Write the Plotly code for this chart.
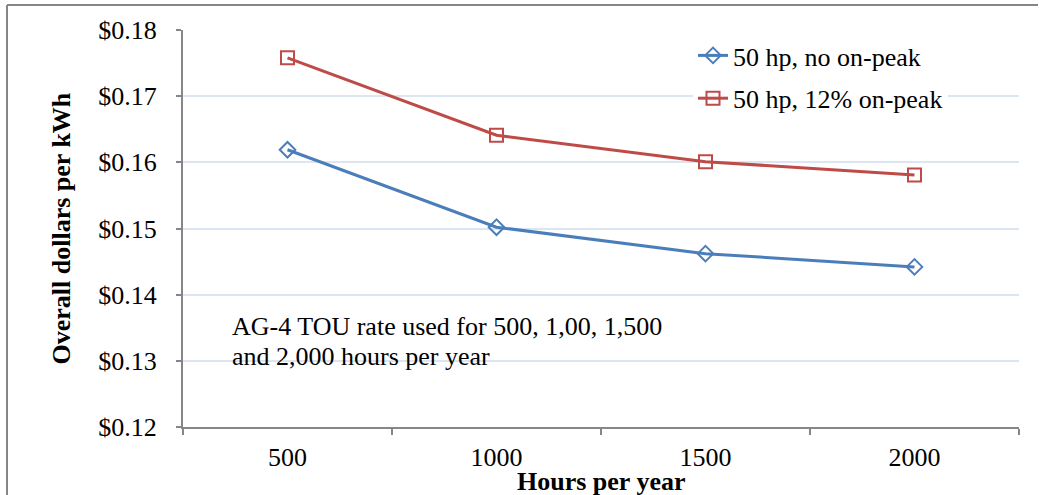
import plotly.graph_objects as go

categories = ["500", "1000", "1500", "2000"]
no_peak = [0.1619, 0.1502, 0.1462, 0.1442]
peak_12 = [0.1758, 0.1641, 0.1601, 0.1581]
series_names = ["50 hp, no on-peak", "50 hp, 12% on-peak"]
y_ticks = [0.12, 0.13, 0.14, 0.15, 0.16, 0.17, 0.18]
y_tick_labels = ["$0.12", "$0.13", "$0.14", "$0.15", "$0.16", "$0.17", "$0.18"]
note_lines = ["AG-4 TOU rate used for 500, 1,00, 1,500", "and 2,000 hours per year"]

FONT = "Liberation Serif"
W, H = 1039, 495
L, R, T, B = 183, 20, 30, 68
pw, ph = W - L - R, H - T - B

def px_x(p):
    return (p - L) / pw

def px_y(p):
    return (H - B - p) / ph

fig = go.Figure()
fig.add_trace(go.Scatter(
    x=categories, y=no_peak, name=series_names[0], mode="lines+markers",
    line=dict(color="#4A7EBB", width=3),
    marker=dict(symbol="diamond-open", size=12, color="#4A7EBB", line=dict(width=2)),
    legendgroup="a",
))
fig.add_trace(go.Scatter(
    x=categories, y=peak_12, name=series_names[1], mode="lines+markers",
    line=dict(color="#BE4B48", width=3),
    marker=dict(symbol="square-open", size=13, color="#BE4B48", line=dict(width=2)),
    legendgroup="b",
))

annotations = [
    dict(text="<b>Hours per year</b>", xref="paper", yref="paper",
         x=0.5, y=px_y(481), xanchor="center", yanchor="middle",
         showarrow=False, font=dict(family=FONT, size=26)),
    dict(text="<b>Overall dollars per kWh</b>", xref="paper", yref="paper",
         x=px_x(61), y=0.5, xanchor="center", yanchor="middle", textangle=-90,
         showarrow=False, font=dict(family=FONT, size=26)),
]
for i, line in enumerate(note_lines):
    annotations.append(dict(
        text=line, xref="paper", yref="paper", x=px_x(230), y=px_y(326 + 30 * i),
        xanchor="left", yanchor="middle", align="left", showarrow=False,
        font=dict(family=FONT, size=26),
    ))

fig.update_layout(
    width=W, height=H,
    margin=dict(l=L, r=R, t=T, b=B),
    paper_bgcolor="white", plot_bgcolor="white",
    font=dict(family=FONT, size=26, color="black"),
    showlegend=True,
    legend=dict(
        x=px_x(693), y=px_y(32), xanchor="left", yanchor="top",
        bgcolor="white", font=dict(family=FONT, size=26, color="black"),
        tracegroupgap=6,
    ),
    xaxis=dict(
        type="category", range=[-0.5, 3.5], tickson="boundaries",
        showgrid=False, showline=True, linecolor="#868686", linewidth=2,
        ticks="outside", ticklen=6, tickcolor="#868686", tickwidth=1.5,
        tickfont=dict(family=FONT, size=26, color="black"), ticklabelstandoff=6,
    ),
    yaxis=dict(
        range=[0.12, 0.18], tickmode="array", tickvals=y_ticks, ticktext=y_tick_labels,
        showgrid=True, gridcolor="#DCE6F2", gridwidth=1.5,
        showline=True, linecolor="#868686", linewidth=2, zeroline=False,
        ticks="outside", ticklen=5, tickcolor="#868686", tickwidth=1.5,
        tickfont=dict(family=FONT, size=26, color="black"), ticklabelstandoff=14,
    ),
    annotations=annotations,
    shapes=[
        dict(type="line", xref="paper", yref="paper", x0=px_x(7), x1=px_x(1038),
             y0=px_y(5), y1=px_y(5), line=dict(color="#868686", width=2)),
        dict(type="line", xref="paper", yref="paper", x0=px_x(7), x1=px_x(7),
             y0=px_y(5), y1=px_y(495), line=dict(color="#868686", width=2)),
    ],
)

fig.write_html("out.html", config={"displayModeBar": False},
               post_script="document.body.style.margin='0';")
